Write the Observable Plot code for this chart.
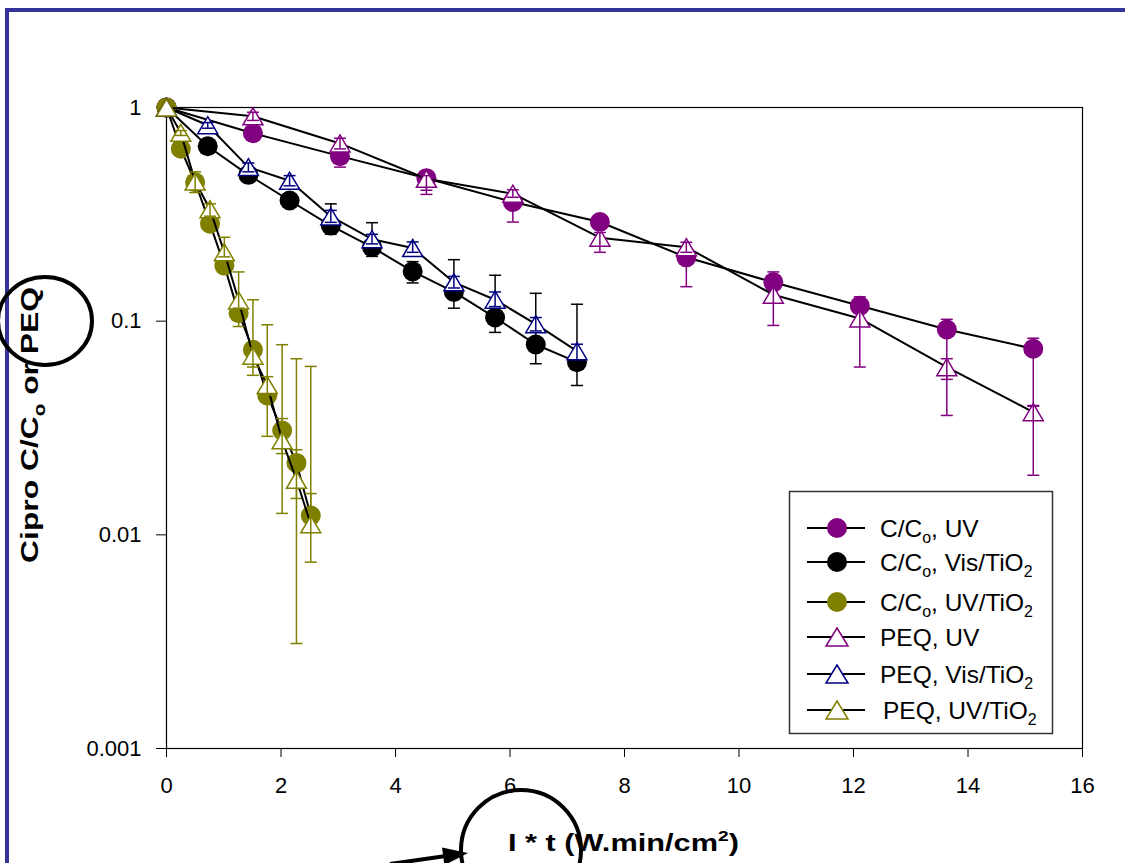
<!DOCTYPE html>
<html><head><meta charset="utf-8">
<script src="https://cdn.jsdelivr.net/npm/d3@7"></script>
<script src="https://cdn.jsdelivr.net/npm/@observablehq/plot@0.6"></script>
<style>
body{margin:0;background:#fff;}
#wrap{position:relative;width:1125px;height:863px;overflow:hidden;background:#fff;}
#over{position:absolute;left:0;top:0;pointer-events:none;}
</style>
</head><body><div id="wrap"></div>
<script>
// ---- data ----
const xUV      = [0, 1.51, 3.03, 4.54, 6.05, 7.57, 9.08, 10.6, 12.11, 13.63, 15.14];
const xVis     = [0, 0.72, 1.43, 2.15, 2.87, 3.59, 4.30, 5.02, 5.74, 6.45, 7.17];
const xUVTiO2  = [0, 0.25, 0.50, 0.76, 1.01, 1.26, 1.51, 1.76, 2.02, 2.27, 2.52];

const ccUV     = [1, 0.758, 0.592, 0.467, 0.361, 0.291, 0.199, 0.152, 0.118, 0.0914, 0.0743];
const ccUVLo   = [1, 0.73, 0.526, 0.41, 0.291, 0.28, 0.145, 0.145, 0.112, 0.0534, 0.040];
const ccUVHi   = [1, 0.79, 0.62, 0.49, 0.38, 0.30, 0.21, 0.170, 0.130, 0.102, 0.0832];

const ccVis    = [1, 0.659, 0.484, 0.367, 0.280, 0.222, 0.171, 0.137, 0.104, 0.0778, 0.0643];
const ccVisLo  = [1, 0.63, 0.46, 0.35, 0.255, 0.201, 0.151, 0.115, 0.0886, 0.0632, 0.050];
const ccVisHi  = [1, 0.69, 0.51, 0.385, 0.354, 0.289, 0.19, 0.194, 0.164, 0.135, 0.120];

const ccUVTiO2   = [1, 0.641, 0.447, 0.286, 0.182, 0.109, 0.0735, 0.0449, 0.0308, 0.0217, 0.0123];
const ccUVTiO2Lo = [1, 0.62, 0.43, 0.27, 0.17, 0.0944, 0.0558, 0.0289, 0.024, 0.0148, 0.0123];
const ccUVTiO2Hi = [1, 0.66, 0.46, 0.30, 0.19, 0.12, 0.126, 0.0962, 0.0776, 0.0667, 0.0614];

const peqUV    = [1, 0.91, 0.679, 0.464, 0.395, 0.246, 0.222, 0.133, 0.103, 0.0609, 0.0375];
const peqUVLo  = [1, 0.87, 0.64, 0.392, 0.38, 0.21, 0.21, 0.0955, 0.061, 0.0362, 0.019];
const peqUVHi  = [1, 0.95, 0.718, 0.48, 0.412, 0.26, 0.234, 0.15, 0.12, 0.0667, 0.0403];

const peqVis   = [1, 0.826, 0.526, 0.454, 0.309, 0.242, 0.220, 0.152, 0.126, 0.0968, 0.0724];
const peqVisLo = [1, 0.80, 0.50, 0.43, 0.29, 0.23, 0.21, 0.143, 0.117, 0.090, 0.066];
const peqVisHi = [1, 0.85, 0.55, 0.48, 0.33, 0.255, 0.235, 0.162, 0.137, 0.104, 0.078];

const peqUVTiO2   = [1, 0.761, 0.45, 0.334, 0.210, 0.125, 0.0689, 0.0502, 0.0277, 0.0181, 0.0112];
const peqUVTiO2Lo = [1, 0.74, 0.40, 0.31, 0.20, 0.115, 0.061, 0.045, 0.0126, 0.0031, 0.00745];
const peqUVTiO2Hi = [1, 0.78, 0.50, 0.354, 0.247, 0.170, 0.075, 0.055, 0.035, 0.025, 0.0156];

const seriesNames = ["C/C_o, UV", "C/C_o, Vis/TiO_2", "C/C_o, UV/TiO_2", "PEQ, UV", "PEQ, Vis/TiO_2", "PEQ, UV/TiO_2"];
const xTicks = [0, 2, 4, 6, 8, 10, 12, 14, 16];
const yTicks = [0.001, 0.01, 0.1, 1];
const yTickLabels = ["0.001", "0.01", "0.1", "1"];

// ---- styling ----
const series = [
  {name: seriesNames[0], x: xUV, y: ccUV, lo: ccUVLo, hi: ccUVHi, color: "#800080", tri: false},
  {name: seriesNames[1], x: xVis, y: ccVis, lo: ccVisLo, hi: ccVisHi, color: "#000000", tri: false},
  {name: seriesNames[2], x: xUVTiO2, y: ccUVTiO2, lo: ccUVTiO2Lo, hi: ccUVTiO2Hi, color: "#808000", tri: false},
  {name: seriesNames[3], x: xUV, y: peqUV, lo: peqUVLo, hi: peqUVHi, color: "#800080", tri: true},
  {name: seriesNames[4], x: xVis, y: peqVis, lo: peqVisLo, hi: peqVisHi, color: "#000080", tri: true},
  {name: seriesNames[5], x: xUVTiO2, y: peqUVTiO2, lo: peqUVTiO2Lo, hi: peqUVTiO2Hi, color: "#808000", tri: true}
];

const triSym = {draw(ctx, size) {
  const r = Math.sqrt(size / Math.PI), h = r * 1.7;
  ctx.moveTo(0, -h / 2); ctx.lineTo(r, h / 2); ctx.lineTo(-r, h / 2); ctx.closePath();
}};
const capSym = {draw(ctx, size) {
  const r = Math.sqrt(size / Math.PI);
  ctx.moveTo(-r, 0); ctx.lineTo(r, 0);
}};

const marks = [];
for (const s of series) {
  const rows = s.x.map((x, i) => ({x, y: s.y[i], lo: s.lo[i], hi: s.hi[i]}));
  marks.push(Plot.line(rows, {x: "x", y: "y", stroke: "black", strokeWidth: 2}));
  marks.push(Plot.dot(rows, {x: "x", y: "y", r: 10, symbol: s.tri ? triSym : "circle",
    fill: s.tri ? "white" : s.color, stroke: s.tri ? s.color : "none", strokeWidth: 1.5}));
  const eb = rows.filter(d => d.hi > d.lo);
  marks.push(Plot.ruleX(eb, {x: "x", y1: "lo", y2: "hi", stroke: s.color, strokeWidth: 1.5}));
  marks.push(Plot.dot(rows.filter(d => d.hi > d.y), {x: "x", y: "hi", r: 6, symbol: capSym, stroke: s.color, fill: "none", strokeWidth: 1.5}));
  marks.push(Plot.dot(rows.filter(d => d.lo < d.y), {x: "x", y: "lo", r: 6, symbol: capSym, stroke: s.color, fill: "none", strokeWidth: 1.5}));
}

const W = 1125, H = 863;
const FONT = "'Liberation Sans', Arial, sans-serif";
const chart = Plot.plot({
  width: W, height: H,
  marginLeft: 166, marginRight: 43, marginTop: 107, marginBottom: 115,
  style: {fontFamily: FONT, fontSize: "22px", color: "black", background: "white", overflow: "visible"},
  x: {domain: [0, 16]},
  y: {type: "log", domain: [0.001, 1]},
  marks: [
    Plot.frame({stroke: "black", strokeWidth: 1.2}),
    Plot.axisX({ticks: xTicks, tickSize: 9, tickPadding: 20, label: null, tickFormat: d => String(d)}),
    Plot.axisY({ticks: yTicks, tickSize: 10, tickPadding: 15, label: null, tickFormat: d => yTickLabels[yTicks.indexOf(d)]}),
    ...marks
  ]
});
document.getElementById("wrap").appendChild(chart);

// ---- overlay: titles, legend, annotations ----
const svg = d3.select("#wrap").append("svg").attr("id", "over").attr("width", W).attr("height", H)
  .style("font-family", FONT);

function addRich(sel, str, size) {
  const parts = str.split(/_(.)/);
  let pendingUp = 0;
  parts.forEach((p, i) => {
    if (!p) return;
    if (i % 2 === 1) {
      sel.append("tspan").attr("font-size", size * 0.65).attr("dy", size * 0.28).text(p);
      pendingUp = -size * 0.28;
    } else {
      const t = sel.append("tspan").text(p);
      if (pendingUp) { t.attr("dy", pendingUp); pendingUp = 0; }
    }
  });
}

// blue page border
svg.append("path").attr("d", "M7,863 V10 H1125").attr("stroke", "#333399").attr("stroke-width", 4).attr("fill", "none");

// y title
const yt = svg.append("text").attr("text-anchor", "middle").attr("font-weight", "bold").attr("font-size", 24);
addRich(yt, "Cipro C/C_o or PEQ", 24);
const ytw = yt.node().getComputedTextLength();
yt.attr("transform", `translate(38,425) rotate(-90) scale(${276 / ytw},1)`);

// x title
const xt = svg.append("text").attr("font-weight", "bold").attr("font-size", 24);
xt.append("tspan").text("I * t (W.min/cm");
xt.append("tspan").attr("font-size", 15).attr("dy", -10).text("2");
xt.append("tspan").attr("dy", 10).text(")");
const xtw = xt.node().getComputedTextLength();
xt.attr("transform", `translate(508,851) scale(${231 / xtw},1)`);

// legend
svg.append("rect").attr("x", 789.5).attr("y", 491.5).attr("width", 263).attr("height", 242)
  .attr("fill", "white").attr("stroke", "#333").attr("stroke-width", 1.5);
const rowY = [528, 562, 602, 637, 674, 710];
series.forEach((s, i) => {
  const y = rowY[i];
  svg.append("line").attr("x1", 807).attr("x2", 865).attr("y1", y).attr("y2", y).attr("stroke", "black").attr("stroke-width", 2);
  if (s.tri) {
    svg.append("path").attr("d", `M837,${y - 9} L848,${y + 9} L826,${y + 9} Z`).attr("fill", "white").attr("stroke", s.color).attr("stroke-width", 1.5);
  } else {
    svg.append("circle").attr("cx", 837).attr("cy", y).attr("r", 10).attr("fill", s.color);
  }
  const t = svg.append("text").attr("x", i === 5 ? 883 : 880).attr("y", y + 8.5).attr("font-size", 24.5);
  addRich(t, s.name, 24.5);
});

// annotation ellipses and arrow
svg.append("ellipse").attr("cx", 45).attr("cy", 321).attr("rx", 47).attr("ry", 44)
  .attr("fill", "none").attr("stroke", "black").attr("stroke-width", 4);
svg.append("ellipse").attr("cx", 521).attr("cy", 850).attr("rx", 60).attr("ry", 60)
  .attr("fill", "none").attr("stroke", "black").attr("stroke-width", 4);
svg.append("line").attr("x1", 390).attr("y1", 864).attr("x2", 446).attr("y2", 856)
  .attr("stroke", "black").attr("stroke-width", 4);
svg.append("path").attr("d", "M468,853 L444.4,865.2 L442,847.4 Z").attr("fill", "black");
</script>
</body></html>
